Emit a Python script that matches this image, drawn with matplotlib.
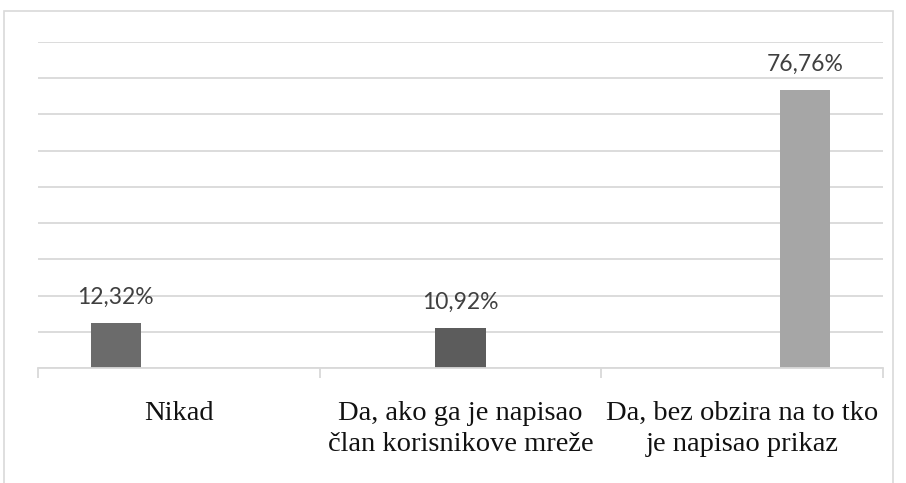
import matplotlib.pyplot as plt
from matplotlib.patches import Rectangle

categories = ["Nikad",
              "Da, ako ga je napisao\nčlan korisnikove mreže",
              "Da, bez obzira na to tko\nje napisao prikaz"]
values = [12.32, 10.92, 76.76]
value_labels = ["12,32%", "10,92%", "76,76%"]

bar_colors = ["#6b6b6b", "#5c5c5c", "#a6a6a6"]
offsets = [-0.224, 0.0, 0.224]
grid_col = "#d9d9d9"

fig = plt.figure(figsize=(9.06, 4.83), dpi=100)
ax = fig.add_axes([38 / 906, 1 - 368 / 483, 845 / 906, 326 / 483])

for i, v in enumerate(values):
    ax.bar(i + offsets[i], v, width=0.178, color=bar_colors[i], zorder=3)
    ax.annotate(value_labels[i], (i + offsets[i], v), xytext=(0, 14),
                textcoords="offset points", ha="center", va="baseline",
                fontsize=16.5, family="Lato", color="#404040", zorder=4)

ax.set_xlim(-0.5, 2.5)
ax.set_ylim(0, 90)
ax.set_yticks(range(0, 91, 10))
ax.yaxis.grid(True, color=grid_col, linewidth=1.3, zorder=0)
ax.tick_params(axis="y", left=False, labelleft=False)

ax.set_xticks(range(3))
ax.set_xticklabels(categories, fontsize=20.5, family="Liberation Serif",
                   color="#111111", linespacing=1.3)
ax.set_xticks([-0.5, 0.5, 1.5, 2.5], minor=True)
ax.tick_params(axis="x", which="major", length=0, pad=24)
ax.tick_params(axis="x", which="minor", length=7, color=grid_col, width=1.3)

for s in ["top", "right", "left"]:
    ax.spines[s].set_visible(False)
ax.spines["bottom"].set_color(grid_col)
ax.spines["bottom"].set_linewidth(1.3)
ax.spines["bottom"].set_zorder(5)

# outer chart border
fig.patches.append(Rectangle((4 / 906, -0.2), 889 / 906, 1.2 - 11 / 483,
                             transform=fig.transFigure, fill=False,
                             edgecolor=grid_col, linewidth=1.2))

fig.savefig("out.png", dpi=100)
